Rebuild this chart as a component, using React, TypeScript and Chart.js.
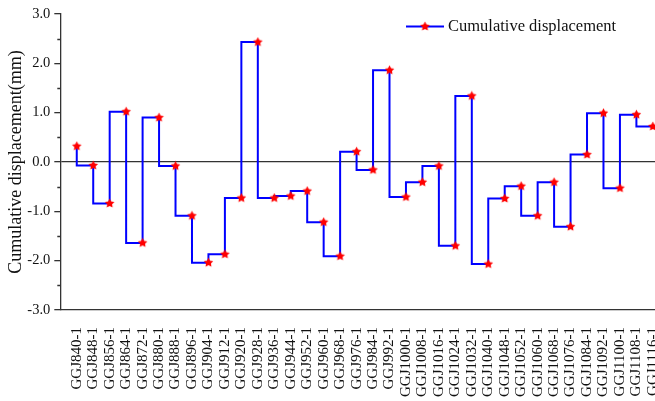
import { useEffect, useRef } from "react";
import { Chart, registerables } from "chart.js";

Chart.register(...registerables);

const categories: string[] = [
  "GGJ840-1", "GGJ848-1", "GGJ856-1", "GGJ864-1", "GGJ872-1", "GGJ880-1",
  "GGJ888-1", "GGJ896-1", "GGJ904-1", "GGJ912-1", "GGJ920-1", "GGJ928-1",
  "GGJ936-1", "GGJ944-1", "GGJ952-1", "GGJ960-1", "GGJ968-1", "GGJ976-1",
  "GGJ984-1", "GGJ992-1", "GGJ1000-1", "GGJ1008-1", "GGJ1016-1", "GGJ1024-1",
  "GGJ1032-1", "GGJ1040-1", "GGJ1048-1", "GGJ1052-1", "GGJ1060-1", "GGJ1068-1",
  "GGJ1076-1", "GGJ1084-1", "GGJ1092-1", "GGJ1100-1", "GGJ1108-1", "GGJ1116-1",
];

const displacement: number[] = [
  0.32, -0.07, -0.84, 1.02, -1.64, 0.9,
  -0.08, -1.09, -2.04, -1.87, -0.73, 2.43,
  -0.73, -0.69, -0.59, -1.22, -1.91, 0.21,
  -0.16, 1.86, -0.71, -0.41, -0.08, -1.7,
  1.34, -2.07, -0.74, -0.49, -1.09, -0.41,
  -1.31, 0.15, 0.99, -0.53, 0.96, 0.72,
];

const yMajorTicks: number[] = [-3, -2, -1, 0, 1, 2, 3];
const yMinorTicks: number[] = [-2.5, -1.5, -0.5, 0.5, 1.5, 2.5];

const seriesLabel = "Cumulative displacement";
const yTitle = "Cumulative displacement(mm)";

const LINE_COLOR = "#0000ff";
const STAR_COLOR = "#ff0000";
const AXIS_COLOR = "#333333";
const TEXT_COLOR = "#111111";
const FONT = "'Liberation Serif', 'Times New Roman', serif";

function makeStar(): HTMLCanvasElement {
  const c = document.createElement("canvas");
  c.width = 11;
  c.height = 11;
  const g = c.getContext("2d")!;
  const cx = 5.5, cy = 5.5, R = 5, r = 2.6;
  g.beginPath();
  for (let i = 0; i < 10; i++) {
    const rad = i % 2 === 0 ? R : r;
    const a = -Math.PI / 2 + (i * Math.PI) / 5;
    const px = cx + rad * Math.cos(a);
    const py = cy + rad * Math.sin(a);
    if (i === 0) g.moveTo(px, py);
    else g.lineTo(px, py);
  }
  g.closePath();
  g.fillStyle = STAR_COLOR;
  g.fill();
  return c;
}

export default function App() {
  const ref = useRef<HTMLCanvasElement | null>(null);

  useEffect(() => {
    if (!ref.current) return;
    const star = makeStar();

    // let the plot area run to the right edge of the canvas, as in the reference
    const fullWidthPlugin = {
      id: "fullWidth",
      afterLayout(chart: any) {
        const target = chart.width;
        const xs = chart.scales.x;
        chart.chartArea.right = target;
        chart.chartArea.width = target - chart.chartArea.left;
        xs.right = target;
        xs.width = target - xs.left;
        xs.configure();
      },
    };

    const minorTickPlugin = {
      id: "minorTicks",
      afterDraw(chart: any) {
        const ctx = chart.ctx;
        const ys = chart.scales.y;
        ctx.save();
        ctx.strokeStyle = AXIS_COLOR;
        ctx.lineWidth = 1.3;
        ctx.beginPath();
        for (const v of yMinorTicks) {
          const py = Math.round(ys.getPixelForValue(v)) + 0.5;
          ctx.moveTo(ys.right - 3, py);
          ctx.lineTo(ys.right, py);
        }
        ctx.stroke();
        ctx.restore();
      },
    };

    const legendPlugin = {
      id: "customLegend",
      afterDraw(chart: any) {
        const ctx = chart.ctx;
        const yc = 26.5;
        ctx.save();
        ctx.strokeStyle = LINE_COLOR;
        ctx.lineWidth = 2;
        ctx.beginPath();
        ctx.moveTo(406, yc);
        ctx.lineTo(444, yc);
        ctx.stroke();
        ctx.drawImage(star, 425 - 5.5, yc - 5.5);
        ctx.fillStyle = TEXT_COLOR;
        ctx.font = `16.5px ${FONT}`;
        ctx.textBaseline = "middle";
        ctx.textAlign = "left";
        ctx.fillText(seriesLabel, 448, yc);
        ctx.restore();
      },
    };

    const chart = new Chart(ref.current, {
      type: "line",
      data: {
        datasets: [
          {
            label: seriesLabel,
            data: categories.map((_, i) => ({ x: i, y: displacement[i] })),
            stepped: "after",
            borderColor: LINE_COLOR,
            backgroundColor: STAR_COLOR,
            borderWidth: 2,
            pointStyle: star as any,
            pointRadius: 5,
            fill: false,
            clip: false as any,
          },
        ],
      },
      options: {
        animation: false,
        responsive: false,
        devicePixelRatio: 1,
        layout: { padding: { top: 14, right: 0, left: 0, bottom: 0 } },
        plugins: {
          legend: { display: false },
          tooltip: { enabled: false },
        },
        scales: {
          x: {
            type: "linear",
            min: -1,
            max: 35.13,
            afterBuildTicks: (s: any) => {
              s.ticks = categories.map((_, i) => ({ value: i }));
            },
            afterFit: (s: any) => {
              s.height = 91;
              s.paddingLeft = 0;
              s.paddingRight = 0;
            },
            ticks: {
              autoSkip: false,
              minRotation: 90,
              maxRotation: 90,
              padding: 17,
              color: TEXT_COLOR,
              font: { family: FONT, size: 15 },
              callback: (_v: any, i: number) => categories[i] ?? "",
            },
            grid: { display: false, drawTicks: false },
            border: { display: true, color: AXIS_COLOR, width: 1.3 },
          },
          y: {
            min: -3,
            max: 3,
            afterBuildTicks: (s: any) => {
              s.ticks = yMajorTicks.map((v) => ({ value: v }));
            },
            afterFit: (s: any) => {
              s.width = 60.3;
              s.paddingTop = 0;
              s.paddingBottom = 0;
            },
            ticks: {
              padding: 4,
              color: TEXT_COLOR,
              font: { family: FONT, size: 14.5 },
              callback: (v: any) => Number(v).toFixed(1),
            },
            grid: {
              drawOnChartArea: true,
              color: (c: any) => (c.tick && c.tick.value === 0 ? AXIS_COLOR : "rgba(0,0,0,0)"),
              lineWidth: 1.3,
              tickLength: 6,
              tickColor: AXIS_COLOR,
              tickWidth: 1.3,
            },
            border: { display: true, color: AXIS_COLOR, width: 1.3 },
            title: {
              display: true,
              text: yTitle,
              color: TEXT_COLOR,
              font: { family: FONT, size: 18 },
              padding: { top: 5, bottom: 0 },
            },
          },
        },
      },
      plugins: [fullWidthPlugin, minorTickPlugin, legendPlugin],
    });

    return () => chart.destroy();
  }, []);

  return (
    <div style={{ position: "fixed", left: 0, top: 0, width: 655, height: 401, background: "#fff" }}>
      <canvas ref={ref} width={655} height={401} style={{ width: 655, height: 401, display: "block" }} />
    </div>
  );
}
